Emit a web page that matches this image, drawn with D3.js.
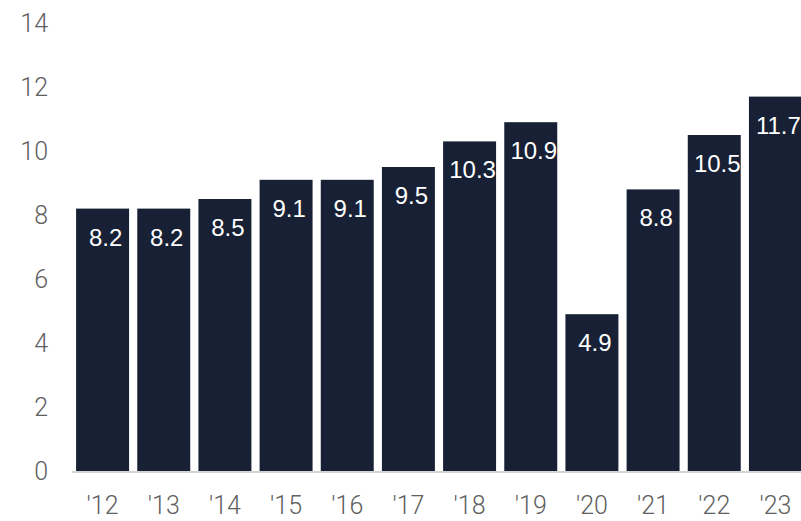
<!DOCTYPE html>
<html>
<head>
<meta charset="utf-8">
<script src="https://cdn.jsdelivr.net/npm/d3@7"></script>
<style>
  html, body { margin: 0; padding: 0; background: #fff; }
  svg { display: block; }
</style>
</head>
<body>
<svg id="chart"></svg>
<script>
const years = ["'12", "'13", "'14", "'15", "'16", "'17", "'18", "'19", "'20", "'21", "'22", "'23"];
const values = [8.2, 8.2, 8.5, 9.1, 9.1, 9.5, 10.3, 10.9, 4.9, 8.8, 10.5, 11.7];
const yTicks = [0, 2, 4, 6, 8, 10, 12, 14];

const dims = {
  width: 801,
  height: 521,
  plot: { left: 72, right: 806, top: 23, bottom: 471 },
  labelDy: 37, // baseline of value label below bar top
};

const svg = d3.select("#chart")
  .attr("width", dims.width)
  .attr("height", dims.height)
  .attr("viewBox", [0, 0, dims.width, dims.height]);

const xScale = d3.scaleBand()
  .domain(years)
  .range([dims.plot.left, dims.plot.right])
  .paddingInner(0.134)
  .paddingOuter(0.067);

const yScale = d3.scaleLinear()
  .domain([0, 14])
  .range([dims.plot.bottom, dims.plot.top]);

// y axis labels only
svg.append("g")
  .attr("transform", "translate(48,0)")
  .call(d3.axisLeft(yScale).tickValues(yTicks).tickSize(0).tickPadding(0).tickFormat(d3.format("d")))
  .call((g) => {
    g.select("path.domain").remove();
    g.selectAll(".tick text")
      .attr("font-family", "Roboto, sans-serif")
      .attr("font-weight", 300)
      .attr("font-size", 25)
      .attr("fill", "#606060");
  });

// bars
const bars = svg.append("g").attr("id", "bars");
bars.selectAll("rect")
  .data(values)
  .join("rect")
  .attr("x", (d, i) => xScale(years[i]))
  .attr("y", (d) => yScale(d))
  .attr("width", xScale.bandwidth())
  .attr("height", (d) => yScale(0) - yScale(d))
  .attr("fill", "#172034");

// value labels inside bars
bars.selectAll("text")
  .data(values)
  .join("text")
  .attr("x", (d, i) => xScale(years[i]) + xScale.bandwidth() / 2 + 3)
  .attr("y", (d) => yScale(d) + dims.labelDy)
  .attr("text-anchor", "middle")
  .attr("font-family", "Arial, 'Liberation Sans', sans-serif")
  .attr("font-size", 24)
  .attr("fill", "#ffffff")
  .text((d) => d.toFixed(1));

// baseline
svg.append("line")
  .attr("x1", dims.plot.left)
  .attr("x2", dims.width)
  .attr("y1", yScale(0) + 1)
  .attr("y2", yScale(0) + 1)
  .attr("stroke", "#d4d4d4")
  .attr("stroke-width", 2);

// x axis labels
svg.append("g")
  .attr("transform", `translate(0,${dims.plot.bottom})`)
  .call(d3.axisBottom(xScale).tickSize(0).tickPadding(0))
  .call((g) => {
    g.select("path.domain").remove();
    g.selectAll(".tick text")
      .attr("dy", null)
      .attr("y", 43)
      .attr("font-family", "Roboto, sans-serif")
      .attr("font-weight", 300)
      .attr("font-size", 25)
      .attr("fill", "#606060");
  });
</script>
</body>
</html>
